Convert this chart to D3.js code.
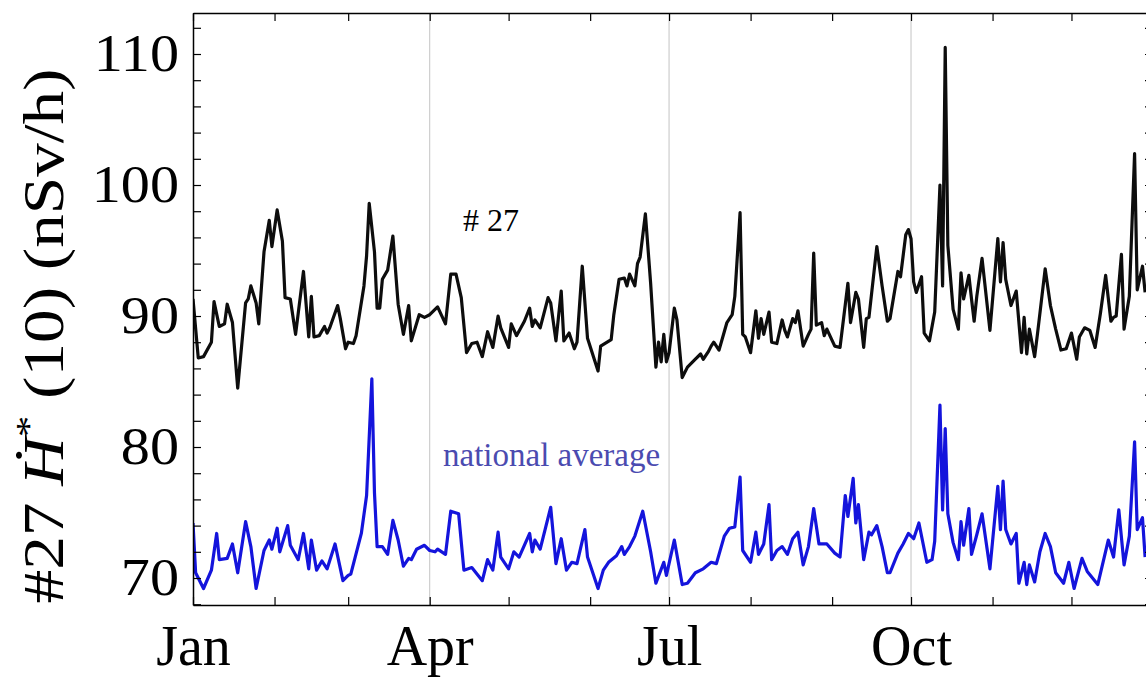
<!DOCTYPE html>
<html>
<head>
<meta charset="utf-8">
<script src="https://cdn.jsdelivr.net/npm/d3@7"></script>
<style>
  body { margin: 0; background: #fff; }
  text { font-family: "Liberation Serif", "DejaVu Serif", serif; }
</style>
</head>
<body>
<script>
// day of year (0 = Jan 1) and dose rate values
const stationDays = [0,2,4,7,8,10,12,13,15,17,20,21,22,24,25,27,29,30,32,34,35,37,39,42,44,45,46,48,50,51,52,55,56,58,59,61,62,65,66,67,69,70,71,72,74,76,78,80,82,83,86,88,90,93,96,98,100,102,104,106,108,110,112,114,116,117,120,121,123,126,128,129,130,132,135,136,138,140,141,143,145,146,148,150,154,155,159,160,162,164,165,166,168,169,170,172,174,176,177,178,179,180,181,183,184,186,188,191,193,194,196,197,198,200,202,203,205,206,208,209,210,212,214,215,216,217,219,220,222,224,225,226,228,229,230,232,234,235,236,237,239,240,241,244,246,249,250,252,253,255,256,257,260,262,264,265,268,269,271,272,273,274,275,277,278,280,282,284,285,286,287,289,291,292,293,295,296,297,298,300,303,306,307,308,309,311,313,315,316,317,318,320,321,324,326,328,330,332,334,336,337,339,341,343,345,347,349,350,351,353,354,356,358,359,361,362];
const stationVals = [91.3,86.8,86.9,88.0,91.1,89.2,89.4,90.9,89.5,84.5,91.0,91.3,92.3,91.0,89.4,94.9,97.3,95.3,98.1,95.7,91.4,91.3,88.6,93.4,88.4,91.5,88.4,88.5,89.2,88.7,89.1,90.8,89.8,87.5,88.0,87.9,88.5,92.3,94.6,98.6,94.9,90.6,90.6,92.8,93.5,96.1,90.9,88.6,90.8,88.1,90.1,89.9,90.1,90.7,89.4,93.2,93.2,91.4,87.2,87.9,88.0,86.9,88.8,87.6,90.0,89.1,87.6,89.4,88.5,89.6,90.6,89.2,89.7,89.1,91.4,91.0,88.1,91.9,88.1,88.7,87.5,88.0,93.8,88.3,85.8,87.7,88.2,90.1,92.8,92.9,92.3,93.2,92.3,94.0,94.5,97.8,92.5,86.1,88.0,86.5,88.6,86.5,87.2,90.6,89.7,85.3,86.1,86.7,87.1,86.7,87.3,87.7,88.0,87.4,88.8,89.5,90.1,91.5,97.9,88.6,88.4,87.2,90.4,88.3,89.8,88.6,90.3,88.0,87.9,89.7,88.9,88.4,89.8,89.5,90.4,87.7,88.6,89.0,94.8,89.3,89.5,88.5,89.0,87.7,87.6,92.5,89.5,91.8,91.3,87.6,89.8,89.9,95.3,92.3,89.6,89.8,93.4,93.0,96.2,96.6,95.9,92.6,91.8,93.0,88.7,88.1,90.3,100.0,92.3,110.5,95.4,90.5,89.0,93.3,91.3,93.1,91.3,89.6,91.5,94.4,88.9,95.9,92.6,95.6,92.8,90.8,91.9,87.2,89.9,87.1,89.0,86.9,88.5,93.6,90.8,89.0,87.4,87.5,88.7,86.7,88.4,89.1,88.9,87.6,90.2,93.1,89.6,89.9,90.0,94.7,89.0,91.5,102.4,92.0,93.8,91.8];

const nationalDays = [0,1,4,7,9,10,13,15,17,18,20,22,24,27,29,30,32,33,36,37,40,42,44,45,47,49,51,54,57,59,60,64,66,68,69,70,72,74,76,78,80,82,83,85,88,90,92,93,96,98,101,103,106,110,112,114,116,117,120,122,124,128,129,130,132,136,138,140,142,144,146,149,150,154,156,158,161,163,164,166,168,171,174,176,179,180,183,186,188,191,194,197,199,202,204,206,208,209,212,214,215,217,219,220,222,224,226,228,230,232,234,236,238,241,244,246,248,249,251,252,253,255,257,258,260,262,264,265,268,270,272,274,276,279,281,282,284,285,286,287,289,291,292,293,295,296,298,300,303,306,307,308,309,311,313,314,316,317,318,320,322,324,326,328,331,333,335,338,340,344,348,350,352,354,356,358,359,361,362];
const nationalVals = [74.2,70.4,69.2,70.6,73.4,71.4,71.5,72.6,70.4,71.7,74.3,72.4,69.2,72.1,72.9,72.2,73.8,72.0,74.0,72.5,71.4,73.4,70.7,72.9,70.6,71.3,70.7,72.6,69.8,70.2,70.3,73.4,76.3,85.2,76.5,72.4,72.4,71.8,74.4,72.9,70.9,71.5,71.4,72.2,72.5,72.1,72.0,72.2,71.8,75.1,74.9,70.6,70.8,69.8,71.4,70.6,73.5,71.6,70.7,72.0,71.6,73.4,72.0,72.9,72.2,75.4,71.1,73.0,70.6,71.2,71.1,73.7,71.6,69.2,70.6,71.2,71.7,72.4,71.8,72.4,73.2,75.1,72.0,69.6,71.2,70.2,72.9,69.5,69.6,70.4,70.7,71.2,71.1,73.2,73.8,73.9,77.7,72.1,71.2,73.5,71.8,72.6,75.6,71.4,72.1,72.4,71.8,73.0,73.5,71.0,72.4,75.3,72.6,72.6,71.9,71.6,76.3,74.7,77.6,74.2,75.6,71.4,73.5,73.3,74.0,72.4,70.4,70.4,71.9,72.6,73.4,73.0,74.2,71.2,71.4,72.8,83.2,75.2,81.4,74.9,72.7,71.4,74.3,72.5,75.3,71.8,73.3,74.9,70.7,77.0,73.7,77.4,73.7,72.6,73.4,69.6,71.2,69.5,71.0,69.7,72.0,73.4,72.4,70.4,69.6,71.2,69.2,71.5,70.5,69.5,72.9,71.6,75.2,71.0,73.2,80.4,73.7,74.6,71.6];

const labelMonths = ["Jan", "Apr", "Jul", "Oct"];
const yTickLabels = [70, 80, 90, 100, 110];

const W = 1146, H = 679;
const plotLeft = 193, plotTop = 13, plotBottom = 605, plotRight = 1153;

const svg = d3.select("body").append("svg")
  .attr("width", W).attr("height", H);

const x = d3.scaleTime()
  .domain([new Date(2011, 0, 1), new Date(2012, 0, 1)])
  .range([plotLeft, plotRight]);

const y = d3.scaleLinear()
  .domain([67.94, 113.13])
  .range([plotBottom, plotTop]);

const toDate = d => new Date(2011, 0, 1 + d);
const months = d3.timeMonth.range(new Date(2011, 0, 1), new Date(2012, 0, 1));
const fmt = d3.timeFormat("%b");

// vertical grid lines
svg.append("g")
  .selectAll("line")
  .data(months.filter(m => m.getMonth() % 3 === 0 && m.getMonth() > 0))
  .join("line")
  .attr("x1", d => x(d)).attr("x2", d => x(d))
  .attr("y1", plotTop).attr("y2", plotBottom)
  .attr("stroke", "#c4c4c4").attr("stroke-width", 1);

svg.append("clipPath").attr("id", "clip")
  .append("rect").attr("x", plotLeft).attr("y", plotTop)
  .attr("width", plotRight - plotLeft).attr("height", plotBottom - plotTop);

const line = d3.line()
  .x(d => x(toDate(d[0])))
  .y(d => y(d[1]));

const plot = svg.append("g").attr("clip-path", "url(#clip)");

plot.append("path")
  .datum(d3.zip(nationalDays, nationalVals))
  .attr("d", line)
  .attr("fill", "none")
  .attr("stroke", "#1414dc")
  .attr("stroke-width", 3.2)
  .attr("stroke-linejoin", "round");

plot.append("path")
  .datum(d3.zip(stationDays, stationVals))
  .attr("d", line)
  .attr("fill", "none")
  .attr("stroke", "#0d0d0d")
  .attr("stroke-width", 3.2)
  .attr("stroke-linejoin", "round");

// frame axes
const yMinor = d3.range(68, 114, 2);

const bottomAxis = svg.append("g")
  .attr("transform", `translate(0,${plotBottom})`)
  .call(d3.axisBottom(x).tickValues(months).tickSizeInner(-8).tickSizeOuter(0).tickPadding(20)
    .tickFormat(d => labelMonths.includes(fmt(d)) ? fmt(d) : ""));

svg.append("g")
  .attr("transform", `translate(0,${plotTop})`)
  .call(d3.axisTop(x).tickValues(months).tickSizeInner(-8).tickSizeOuter(0).tickFormat(""));

const leftAxis = svg.append("g")
  .attr("transform", `translate(${plotLeft},0)`)
  .call(d3.axisLeft(y).tickValues(yMinor).tickSizeInner(-8).tickSizeOuter(0).tickPadding(0)
    .tickFormat(d => yTickLabels.includes(d) ? d : ""));

svg.append("g")
  .attr("transform", `translate(${plotRight},0)`)
  .call(d3.axisRight(y).tickValues(yMinor).tickSizeInner(-8).tickSizeOuter(0).tickFormat(""));

svg.selectAll(".domain").attr("stroke", "#000").attr("stroke-width", 1.5);
svg.selectAll(".tick line").attr("stroke", "#000").attr("stroke-width", 1.2);

bottomAxis.selectAll("text")
  .attr("font-family", "Liberation Serif")
  .attr("font-size", 56)
  .attr("fill", "#000");

// wider serif digits, like the original typesetting
leftAxis.selectAll("text")
  .attr("font-family", "Liberation Serif")
  .attr("font-size", 52)
  .attr("fill", "#000")
  .attr("x", -12.5)
  .attr("transform", "scale(1.12,1)");

// y title
const title = svg.append("text")
  .attr("transform", "translate(63,336) rotate(-90) scale(1.2,1)")
  .attr("text-anchor", "middle")
  .attr("font-size", 56)
  .attr("fill", "#000");
title.append("tspan").text("#27  ");
title.append("tspan").attr("font-style", "italic").text("Ḣ");
title.append("tspan").attr("font-size", 36).attr("dy", -22).text("*");
title.append("tspan").attr("dy", 22).text(" (10) (nSv/h)");

// annotations
svg.append("text")
  .attr("x", 463).attr("y", 231)
  .attr("font-size", 32)
  .attr("fill", "#000")
  .text("# 27");

svg.append("text")
  .attr("x", 443).attr("y", 466)
  .attr("font-size", 33)
  .attr("fill", "#4b4bb0")
  .text("national average");
</script>
</body>
</html>
